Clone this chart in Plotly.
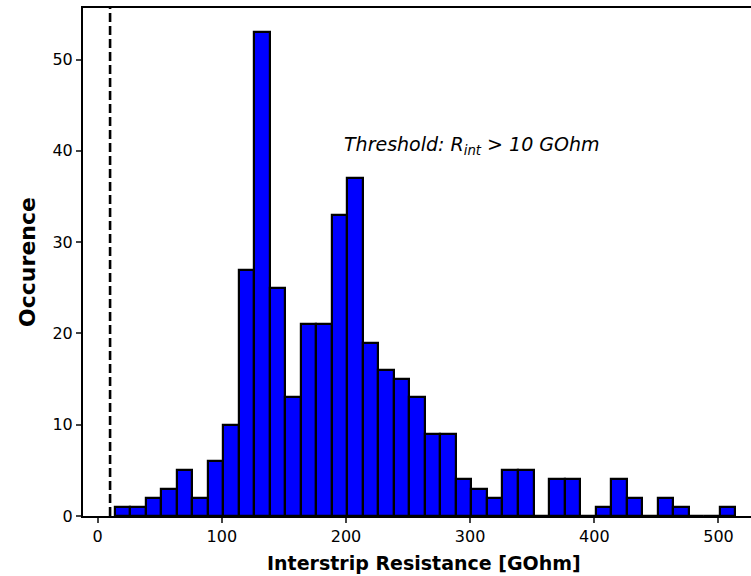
import plotly.graph_objects as go

# Histogram data
bin_start = 13.8
bin_width = 12.49
counts = [1, 1, 2, 3, 5, 2, 6, 10, 27, 53, 25, 13, 21, 21, 33, 37, 19, 16, 15, 13,
          9, 9, 4, 3, 2, 5, 5, 0, 4, 4, 0, 1, 4, 2, 0, 2, 1, 0, 0, 1]
threshold = 10
x_ticks = [0, 100, 200, 300, 400, 500]
y_ticks = [0, 10, 20, 30, 40, 50]

centers = [bin_start + bin_width * (i + 0.5) for i in range(len(counts))]

fig = go.Figure()
fig.add_trace(go.Bar(
    x=centers, y=counts, width=[bin_width] * len(counts),
    marker=dict(color="#0000ff", line=dict(color="black", width=2.2)),
    showlegend=False,
))

fig.add_shape(type="line", x0=threshold, x1=threshold, y0=0, y1=1, yref="paper",
              line=dict(color="black", width=2.6, dash="9px,4px"))

fig.add_annotation(x=197, y=39.0, xanchor="left", yanchor="bottom",
                   text="Threshold: R<sub>int</sub> > 10 GOhm", showarrow=False,
                   font=dict(family="DejaVu Sans", size=19, color="black", style="italic"))

# x-axis title (centred on the full axes, which extend beyond the window)
fig.add_annotation(x=0.511, y=0, xref="paper", yref="paper", xanchor="center",
                   yanchor="middle", yshift=-47, showarrow=False,
                   text="<b>Interstrip Resistance [GOhm]</b>",
                   font=dict(family="DejaVu Sans", size=19, color="black"))

fig.update_layout(
    width=751, height=576,
    margin=dict(l=83, r=0, t=8, b=60),
    paper_bgcolor="white", plot_bgcolor="white",
    bargap=0,
    font=dict(family="DejaVu Sans", size=16, color="black"),
    xaxis=dict(range=[-11.8, 526.2], tickvals=x_ticks, ticks="outside", ticklen=5,
               tickwidth=1.5, showline=True, linewidth=2, linecolor="black", mirror=True,
               showgrid=False, zeroline=False, automargin=False),
    yaxis=dict(range=[0, 55.65], tickvals=y_ticks, ticks="outside", ticklen=5,
               tickwidth=1.5, showline=True, linewidth=2, linecolor="black", mirror=False,
               showgrid=False, zeroline=False, automargin=False,
               title=dict(text="<b>Occurence</b>", standoff=11, font=dict(size=22))),
)

fig.write_html("out.html", config={"displayModeBar": False},
               post_script="document.body.style.margin='0px';")
